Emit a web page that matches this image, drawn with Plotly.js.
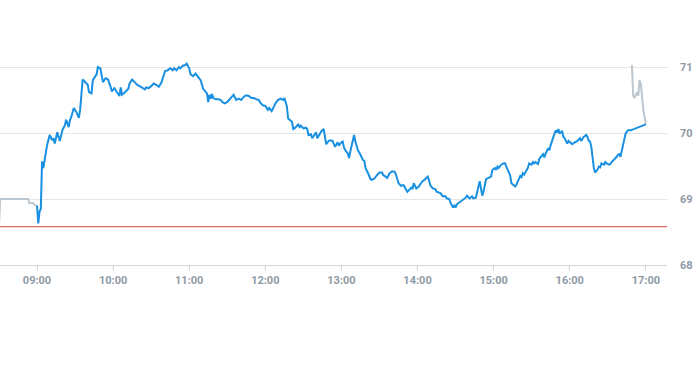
<!DOCTYPE html>
<html>
<head>
<meta charset="utf-8">
<script src="https://cdn.plot.ly/plotly-3.0.1.min.js"></script>
<style>html,body{margin:0;padding:0;background:#fff;}#chart{width:693px;height:365px;}</style>
</head>
<body>
<div id="chart"></div>
<script>
// ---- data ----
const prevClose = 68.58;
const hourTicks = ['09:00','10:00','11:00','12:00','13:00','14:00','15:00','16:00','17:00'];
const yTicks = [68, 69, 70, 71];

const preTimes  = ['08:30','08:31','08:53','08:54','08:57','08:58','09:00'];
const preValues = [68.56, 69.00, 69.00, 68.94, 68.94, 68.91, 68.90];

const times = ['09:00','09:01','09:02','09:03','09:04','09:05','09:06','09:08','09:10','09:12','09:13','09:14','09:16','09:18','09:20','09:22','09:23','09:25','09:26','09:27','09:29','09:31','09:33','09:34','09:36','09:38','09:40','09:41','09:43','09:44','09:47','09:48','09:50','09:51','09:52','09:54','09:56','09:58','09:59',
'10:01','10:03','10:05','10:06','10:07','10:09','10:12','10:13','10:15','10:17','10:19','10:21','10:23','10:25','10:26','10:28','10:30','10:32','10:34','10:36','10:38','10:40','10:41','10:43','10:45','10:47','10:48','10:50','10:52','10:53','10:55','10:57','10:58',
'11:00','11:01','11:03','11:05','11:07','11:09','11:11','11:12','11:14','11:15','11:16','11:17','11:18','11:19','11:21','11:23','11:25','11:26','11:28','11:30','11:32','11:34','11:35','11:37','11:39','11:41','11:43','11:45','11:47','11:49','11:51','11:53','11:55','11:56','11:58',
'12:00','12:02','12:03','12:05','12:06','12:08','12:10','12:12','12:14','12:15','12:16','12:17','12:18','12:19','12:21','12:22','12:23','12:25','12:26','12:27','12:28','12:30','12:32','12:33','12:34','12:36','12:37','12:39','12:40','12:41','12:42','12:44','12:46','12:47','12:48','12:50','12:51','12:53','12:54','12:55','12:57','12:58',
'13:00','13:01','13:02','13:03','13:05','13:06','13:07','13:09','13:10','13:11','13:13','13:15','13:17','13:18','13:19','13:21','13:23','13:24','13:26','13:28','13:30','13:32','13:33','13:34','13:36','13:38','13:40','13:42','13:43','13:45','13:47','13:49','13:50','13:52','13:54','13:55','13:56','13:57','13:59',
'14:01','14:02','14:04','14:06','14:08','14:09','14:10','14:12','14:14','14:15','14:16','14:18','14:20','14:22','14:23','14:25','14:26','14:28','14:29','14:30','14:31','14:33','14:35','14:37','14:38','14:39','14:41','14:43','14:44','14:46','14:47','14:49','14:50','14:51','14:52','14:53','14:54','14:56','14:58','14:59',
'15:01','15:02','15:03','15:04','15:06','15:08','15:09','15:10','15:12','15:13','15:14','15:16','15:17','15:18','15:20','15:21','15:22','15:23','15:24','15:25','15:27','15:28','15:30','15:31','15:32','15:33','15:35','15:36','15:37','15:39','15:40','15:41','15:43','15:44','15:45','15:46','15:48','15:49','15:50','15:51','15:52','15:54','15:55','15:56','15:58','15:59',
'16:00','16:02','16:04','16:06','16:08','16:09','16:10','16:11','16:13','16:14','16:15','16:16','16:17','16:18','16:19','16:20','16:21','16:22','16:23','16:24','16:25','16:27','16:28','16:29','16:31','16:32','16:33','16:34','16:36','16:37','16:38','16:39','16:40','16:41','16:42','16:43','16:44','16:45','16:46','16:48','17:00'];

const prices = [68.90,68.63,68.81,68.85,69.57,69.47,69.59,69.82,69.97,69.89,69.92,69.84,70.01,69.88,70.04,70.12,70.20,70.09,70.20,70.24,70.38,70.32,70.23,70.35,70.81,70.77,70.73,70.62,70.60,70.80,70.89,71.00,70.98,70.87,70.77,70.83,70.81,70.70,70.63,
70.68,70.61,70.56,70.69,70.58,70.61,70.67,70.75,70.81,70.77,70.73,70.71,70.68,70.66,70.69,70.68,70.71,70.75,70.73,70.70,70.76,70.87,70.94,70.95,70.98,70.95,70.98,70.95,71.00,70.98,71.02,71.03,71.05,
70.98,70.89,70.86,70.90,70.85,70.80,70.67,70.65,70.60,70.47,70.58,70.52,70.59,70.53,70.51,70.51,70.50,70.47,70.45,70.47,70.52,70.57,70.58,70.50,70.52,70.50,70.55,70.57,70.56,70.53,70.53,70.51,70.50,70.46,70.42,
70.41,70.35,70.38,70.33,70.37,70.45,70.50,70.52,70.50,70.53,70.47,70.40,70.22,70.20,70.17,70.06,70.07,70.11,70.13,70.09,70.11,70.07,70.08,70.06,69.97,69.98,69.92,69.98,70.01,69.92,69.96,70.02,70.06,69.97,69.83,69.88,69.89,69.88,69.84,69.79,69.86,69.81,
69.86,69.87,69.78,69.74,69.69,69.62,69.72,69.89,69.97,69.87,69.74,69.67,69.59,69.58,69.47,69.39,69.30,69.29,69.31,69.36,69.40,69.40,69.36,69.35,69.32,69.39,69.42,69.41,69.37,69.24,69.20,69.21,69.17,69.11,69.15,69.17,69.15,69.24,69.16,
69.19,69.22,69.27,69.30,69.34,69.29,69.21,69.16,69.15,69.11,69.10,69.09,69.04,69.04,69.01,69.00,68.94,68.87,68.91,68.87,68.92,68.95,68.97,69.00,69.02,69.05,69.01,69.04,69.01,69.02,69.12,69.27,69.16,69.05,69.11,69.24,69.30,69.32,69.34,69.44,
69.47,69.44,69.49,69.47,69.52,69.54,69.54,69.49,69.41,69.36,69.24,69.20,69.19,69.22,69.30,69.35,69.33,69.39,69.37,69.41,69.47,69.54,69.52,69.56,69.54,69.56,69.53,69.61,69.64,69.68,69.63,69.69,69.77,69.74,69.82,69.89,69.99,70.04,70.01,70.06,69.99,70.03,69.94,69.92,69.84,69.88,
69.86,69.83,69.86,69.88,69.92,69.88,69.91,69.94,69.97,69.94,69.88,69.87,69.79,69.62,69.47,69.40,69.42,69.45,69.49,69.48,69.54,69.52,69.56,69.54,69.52,69.53,69.56,69.58,69.61,69.64,69.67,69.68,69.64,69.72,69.82,69.92,69.99,70.02,70.04,70.04,70.13];

const postTimes  = ['16:49','16:50','16:51','16:53','16:54','16:55','16:56','16:58','17:00'];
const postValues = [71.03, 70.57, 70.53, 70.62, 70.56, 70.80, 70.75, 70.35, 70.13];

// ---- chart ----
const DAY = '2024-01-15 ';
const d = t => DAY + t;
const tickFont = {family: 'Roboto, "Liberation Sans", sans-serif', size: 11, color: '#8e9aa6', weight: 'bold'};

const traces = [
  {x: preTimes.map(d), y: preValues, type: 'scatter', mode: 'lines',
   line: {color: '#bcc6ce', width: 2}, hoverinfo: 'skip'},
  {x: postTimes.map(d), y: postValues, type: 'scatter', mode: 'lines',
   line: {color: '#bcc6ce', width: 2}, hoverinfo: 'skip'},
  {x: times.map(d), y: prices, type: 'scatter', mode: 'lines',
   line: {color: '#1a90e2', width: 2}, hoverinfo: 'skip'}
];

const layout = {
  width: 693, height: 365,
  margin: {l: 0, r: 26, t: 34, b: 100},
  paper_bgcolor: '#ffffff', plot_bgcolor: '#ffffff',
  showlegend: false,
  xaxis: {
    type: 'date',
    range: [d('08:30:50'), d('17:16:40')],
    tickvals: hourTicks.map(d), ticktext: hourTicks,
    ticks: 'outside', ticklen: 5, tickcolor: '#d3d8dc',
    showline: true, linecolor: '#d3d8dc', linewidth: 1,
    showgrid: false, zeroline: false, tickfont: tickFont, fixedrange: true
  },
  yaxis: {
    side: 'right', range: [68, 71.5],
    tickvals: yTicks, ticktext: yTicks.map(String),
    showgrid: true, gridcolor: '#e6e6e6', gridwidth: 1,
    zeroline: false, showline: false, ticks: '',
    ticklabelstandoff: 12,
    tickfont: tickFont, fixedrange: true
  },
  shapes: [{type: 'line', xref: 'paper', x0: 0, x1: 1, yref: 'y', y0: prevClose, y1: prevClose,
            line: {color: '#d0453b', width: 1}}]
};

Plotly.newPlot('chart', traces, layout, {displayModeBar: false, staticPlot: true});
</script>
</body>
</html>
